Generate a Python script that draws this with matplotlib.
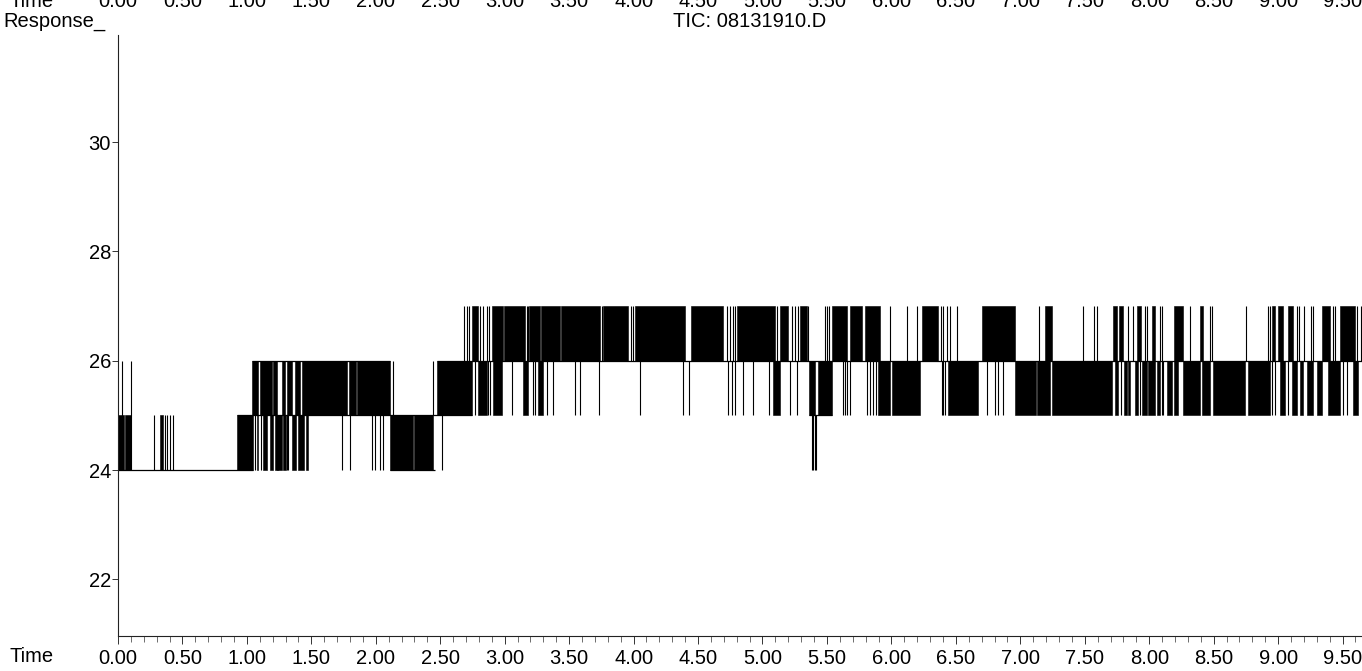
import numpy as np
import matplotlib
matplotlib.use("Agg")
import matplotlib.pyplot as plt
from matplotlib.ticker import MultipleLocator, FormatStrFormatter
from matplotlib.transforms import blended_transform_factory

plt.rcParams['font.family'] = ['Liberation Sans', 'DejaVu Sans']

# TIC trace 08131910.D, response only takes integer levels 24..27.
# Dense stretches where the trace keeps flipping between two neighbouring
# levels are kept as (start, end) in minutes; single flips as times.
band_24_25 = [(0.000, 0.045), (0.055, 0.098), (0.326, 0.352), (0.921, 1.050),
              (1.075, 1.089), (1.127, 1.153), (1.179, 1.205), (1.218, 1.270),
              (1.282, 1.300), (1.347, 1.380), (1.399, 1.440), (1.455, 1.477),
              (2.110, 2.290), (2.300, 2.446)]
band_25_26 = [(1.037, 1.089), (1.102, 1.192), (1.205, 1.231), (1.270, 1.295),
              (1.308, 1.347), (1.373, 1.412), (1.425, 1.780), (1.792, 1.848),
              (1.856, 2.110), (2.473, 2.744), (2.795, 2.860), (2.912, 2.976),
              (3.144, 3.183), (3.261, 3.300), (5.084, 5.136), (5.363, 5.407),
              (5.433, 5.536), (5.898, 5.989), (6.002, 6.221), (6.441, 6.674),
              (6.958, 7.120), (7.128, 7.230), (7.243, 7.709), (7.734, 7.760),
              (7.804, 7.825), (7.838, 7.851), (7.890, 7.915), (7.941, 7.980),
              (7.993, 8.045), (8.058, 8.083), (8.135, 8.174), (8.192, 8.226),
              (8.265, 8.394), (8.407, 8.471), (8.492, 8.743), (8.769, 8.937),
              (9.014, 9.053), (9.105, 9.144), (9.170, 9.195), (9.221, 9.273),
              (9.299, 9.338), (9.389, 9.480), (9.583, 9.622)]
band_26_27 = [(2.744, 2.795), (2.899, 2.989), (2.995, 3.157), (3.190, 3.274),
              (3.282, 3.429), (3.436, 3.739), (3.762, 3.959), (4.008, 4.399),
              (4.447, 4.696), (4.799, 5.097), (5.136, 5.200), (5.291, 5.342),
              (5.536, 5.652), (5.678, 5.769), (5.795, 5.911), (6.234, 6.364),
              (6.700, 6.958), (7.191, 7.243), (7.716, 7.747), (7.768, 7.794),
              (7.908, 7.934), (8.019, 8.045), (8.192, 8.265), (8.394, 8.420),
              (8.950, 8.976), (8.999, 9.040), (9.079, 9.118), (9.338, 9.402),
              (9.480, 9.596)]

flips_24_25 = [0.282, 0.365, 0.378, 0.403, 0.424, 1.062, 1.110, 1.230, 1.245,
               1.308, 1.320, 1.735, 1.800, 1.968, 1.994, 2.033, 2.059, 2.511,
               5.383, 5.393, 5.405, 5.418]
flips_25_26 = [2.136, 2.446, 2.769, 2.873, 2.886, 3.054, 3.222, 3.235, 3.325,
               3.377, 3.545, 3.584, 3.734, 4.049, 4.380, 4.432, 4.735, 4.761,
               4.786, 4.851, 4.929, 5.053, 5.213, 5.265, 5.621, 5.640, 5.658,
               5.678, 5.813, 5.833, 5.859, 5.880, 6.389, 6.402, 6.415, 6.739,
               6.803, 6.829, 6.868, 7.778, 7.928, 8.096, 8.109, 8.950, 8.976,
               9.079, 9.506, 9.532]
flips_26_27 = [2.684, 2.705, 2.725, 2.808, 2.829, 2.860, 2.881, 3.170, 3.183,
               3.752, 3.977, 3.993, 4.722, 4.748, 4.768, 4.786, 5.110, 5.226,
               5.252, 5.278, 5.355, 5.484, 5.502, 5.518, 5.989, 6.118, 6.196,
               6.382, 6.402, 6.428, 6.454, 6.506, 7.147, 7.483, 7.571, 7.597,
               7.838, 7.871, 7.967, 7.980, 8.083, 8.096, 8.316, 8.471, 8.484,
               8.748, 8.924, 8.937, 9.144, 9.164, 9.201, 9.252, 9.273, 9.428,
               9.441, 9.614, 9.640]
# two early jumps straight from 24 up to 26
spikes_24_26 = [0.028, 0.098]

# levels the trace sits on between flips
rest_level = [24, 25, 26, 24, 26, 25]
rest_start = [0.000, 0.921, 1.037, 2.110, 2.473, 5.363]
rest_end = [1.050, 2.744, 2.110, 2.459, 9.650, 5.536]

time_ticks = np.arange(0, 9.51, 0.5)
FS = 14.5

fig = plt.figure(figsize=(13.62, 6.71), dpi=100)
ax = fig.add_axes([118 / 1362, 35 / 671, 1 - 118 / 1362, 601 / 671])

for lo, bands in ((24, band_24_25), (25, band_25_26), (26, band_26_27)):
    for t0, t1 in bands:
        ax.fill_between([t0, t1], lo, lo + 1, color='black', lw=0.4,
                        edgecolor='black')
ax.vlines(flips_24_25, 24, 25, color='black', lw=0.8)
ax.vlines(flips_25_26, 25, 26, color='black', lw=0.8)
ax.vlines(flips_26_27, 26, 27, color='black', lw=0.8)
ax.vlines(spikes_24_26, 24, 26, color='black', lw=0.8)
ax.hlines(rest_level, rest_start, rest_end, color='black', lw=0.9)

ax.set_xlim(0, 9.651)
ax.set_ylim(20.963, 31.96)
ax.spines['top'].set_visible(False)
ax.spines['right'].set_visible(False)
for s in ('left', 'bottom'):
    ax.spines[s].set_linewidth(0.8)
    ax.spines[s].set_color('#222222')

ax.set_xticks(time_ticks)
ax.xaxis.set_major_formatter(FormatStrFormatter('%.2f'))
ax.xaxis.set_minor_locator(MultipleLocator(0.1))
ax.set_yticks([22, 24, 26, 28, 30])
ax.tick_params(axis='x', which='major', direction='out', length=6, width=0.7,
               labelsize=FS, pad=3, color='#333333')
ax.tick_params(axis='x', which='minor', direction='out', length=4, width=0.6,
               color='#555555')
ax.tick_params(axis='y', which='major', direction='out', length=4, width=0.7,
               labelsize=FS, pad=1, color='#333333')

# axis captions in the style of the instrument printout
fig.text(10 / 1362, 1 - 657 / 671, 'Time', fontsize=FS, va='center', ha='left')
fig.text(3 / 1362, 1 - 27 / 671, 'Response_', fontsize=FS, va='baseline',
         ha='left')
fig.text(750 / 1362, 1 - 27 / 671, 'TIC: 08131910.D', fontsize=FS,
         va='baseline', ha='center')

# time scale of the previous panel, cut off by the page edge
top = blended_transform_factory(ax.transData, fig.transFigure)
for t in time_ticks:
    fig.text(t, 1 - 7 / 671, '%.2f' % t, fontsize=FS, va='baseline',
             ha='center', transform=top)
fig.text(10 / 1362, 1 - 7 / 671, 'Time', fontsize=FS, va='baseline', ha='left')

fig.savefig('out.png', dpi=100)
